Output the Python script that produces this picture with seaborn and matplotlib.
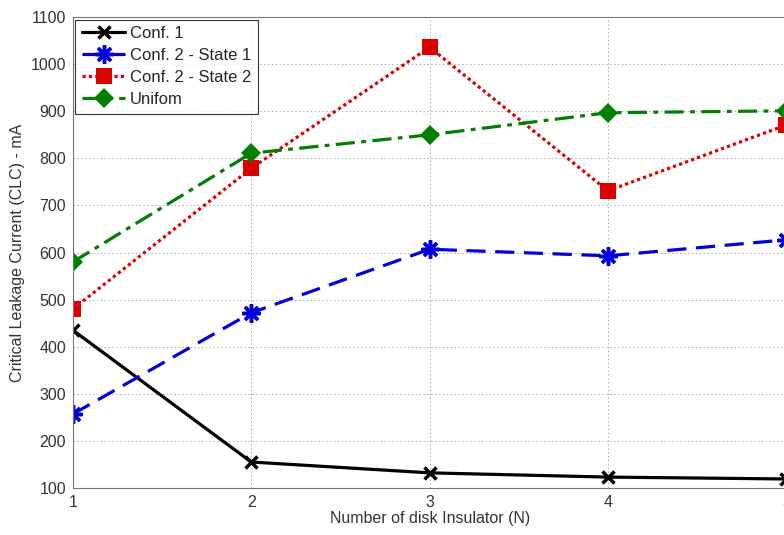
import matplotlib
matplotlib.use("Agg")
import matplotlib.pyplot as plt
import pandas as pd
import seaborn as sns

n_disks = [1, 2, 3, 4, 5]
conf1 = [435, 155, 132, 123, 119]
conf2_state1 = [257, 472, 607, 593, 627]
conf2_state2 = [480, 779, 1036, 731, 871]
uniform = [580, 811, 850, 897, 901]

series_names = ["Conf. 1", "Conf. 2 - State 1", "Conf. 2 - State 2", "Unifom"]
series_values = [conf1, conf2_state1, conf2_state2, uniform]

styles = {
    "Conf. 1": dict(color="black", linestyle="-", marker="x", markersize=9, mew=2.5),
    "Conf. 2 - State 1": dict(color="#0000dd", linestyle=(0, (6, 3)), marker=(8, 2, 0), markersize=13, mew=2.5),
    "Conf. 2 - State 2": dict(color="#dd0000", linestyle=(0, (1, 1)), marker="s", markersize=11, mew=0),
    "Unifom": dict(color="#008000", linestyle=(0, (6, 2, 1.5, 2)), marker="D", markersize=10, mew=0),
}

rows = []
for name, vals in zip(series_names, series_values):
    for x, y in zip(n_disks, vals):
        rows.append({"N": x, "CLC": y, "series": name})
df = pd.DataFrame(rows)

sns.set_style("white")
plt.rcParams["font.family"] = ["Liberation Sans", "DejaVu Sans"]

fig = plt.figure(figsize=(7.84, 5.35), dpi=100)
ax = fig.add_axes([0.093, 0.088, 0.91, 0.880])

for name in series_names:
    st = styles[name]
    sns.lineplot(ax=ax, data=df[df["series"] == name], x="N", y="CLC",
                 color=st["color"], linestyle=st["linestyle"], linewidth=2.3,
                 marker=st["marker"], markersize=st["markersize"],
                 markeredgewidth=st["mew"], markeredgecolor=st["color"],
                 label=name)

ax.set_xlim(1, 5)
ax.set_ylim(100, 1100)
ax.set_xticks(n_disks)
ax.set_yticks(range(100, 1101, 100))
ax.grid(True, color="#aaaaaa", linestyle=(0, (1.5, 2.5)), linewidth=0.7)
ax.tick_params(direction="in", labelsize=11.5, colors="#333333", length=4, pad=5)
for s in ax.spines.values():
    s.set_color("#777777")
    s.set_linewidth(0.8)

ax.set_xlabel("Number of disk Insulator (N)", fontsize=11.5, color="#333333", labelpad=1)
ax.set_ylabel("Critical Leakage Current (CLC) - mA", fontsize=11.5, color="#333333", labelpad=4)

leg = ax.legend(loc="upper left", fontsize=12, frameon=True, fancybox=False,
                edgecolor="black", borderaxespad=0.15, handlelength=2.6,
                handletextpad=0.25, labelspacing=0.42, borderpad=0.4)
leg.get_frame().set_linewidth(0.8)

fig.savefig("out.png", dpi=100)
